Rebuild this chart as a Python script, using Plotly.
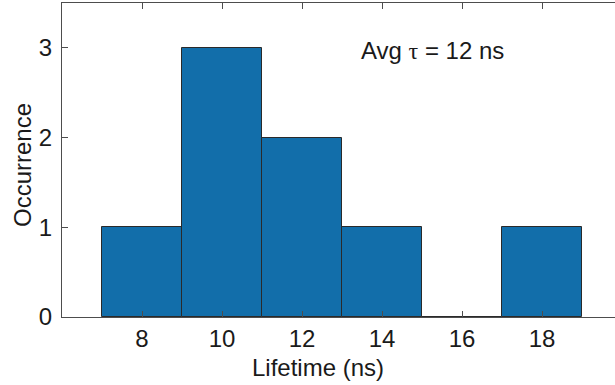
import plotly.graph_objects as go

bin_centers = [8, 10, 12, 14, 16, 18]
counts = [1, 3, 2, 1, 0, 1]
bin_width = 2
x_ticks = [8, 10, 12, 14, 16, 18]
y_ticks = [0, 1, 2, 3]
x_label = "Lifetime (ns)"
y_label = "Occurrence"
note = "Avg <span style='font-family:Liberation Serif, Times New Roman, serif'>τ</span> = 12 ns"

FONT = "Liberation Sans, Arial, sans-serif"
AX = "#4d4d4d"
FS = 24

fig = go.Figure()
fig.add_trace(go.Bar(
    x=bin_centers, y=counts, width=[bin_width] * len(bin_centers),
    marker=dict(color="#126EAA", line=dict(color="#2a2a2a", width=1)),
    showlegend=False,
))

fig.update_layout(
    width=615, height=385,
    margin=dict(l=62, r=0, t=3, b=68),
    paper_bgcolor="white", plot_bgcolor="white",
    font=dict(family=FONT, size=FS, color="#1a1a1a"),
    bargap=0,
    xaxis=dict(
        range=[6, 19.825], tickvals=x_ticks, ticks="inside", ticklen=6,
        tickcolor=AX, showline=True, linecolor=AX, linewidth=1,
        mirror="ticks", showgrid=False, zeroline=False,
        tickfont=dict(size=FS), ticklabelstandoff=0,
    ),
    yaxis=dict(
        range=[0, 3.5], tickvals=y_ticks, ticks="inside", ticklen=6,
        tickcolor=AX, showline=True, linecolor=AX, linewidth=1,
        mirror=False, showgrid=False, zeroline=False,
        tickfont=dict(size=FS), ticklabelstandoff=4,
    ),
    annotations=[
        dict(text=note, x=15.25, y=2.97, xref="x", yref="y",
             showarrow=False, xanchor="center", yanchor="middle",
             font=dict(size=FS)),
        dict(text=x_label, x=(318 - 62) / 553, y=-50 / 314, xref="paper", yref="paper",
             showarrow=False, xanchor="center", yanchor="middle",
             font=dict(size=FS)),
        dict(text=y_label, x=-40 / 553, y=(317 - 165) / 314, xref="paper", yref="paper",
             showarrow=False, xanchor="center", yanchor="middle", textangle=-90,
             font=dict(size=FS)),
    ],
)

fig.write_html(
    "out.html",
    config={"displayModeBar": False},
    post_script="document.body.style.margin='0';document.body.style.overflow='hidden';",
)
